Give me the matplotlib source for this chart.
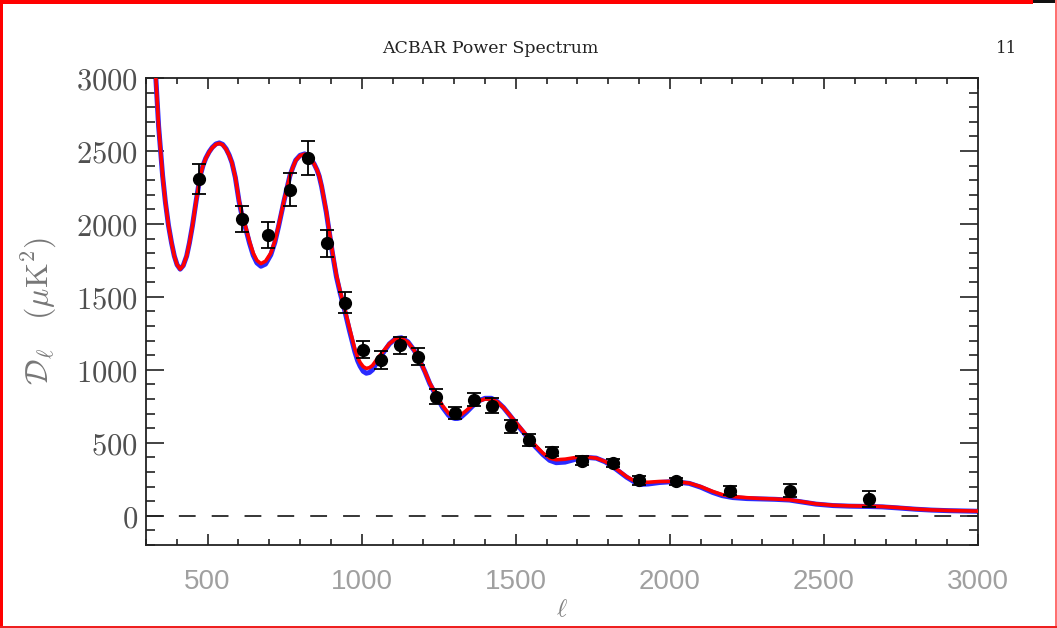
import matplotlib
matplotlib.use("Agg")
import matplotlib.pyplot as plt
from matplotlib.ticker import MultipleLocator, FuncFormatter
from matplotlib.patches import Rectangle

plt.rcParams['mathtext.fontset'] = 'cm'

# ACBAR band powers
ell = [472, 610, 696, 767, 826, 888, 945, 1004, 1064, 1123, 1183, 1242, 1304,
       1363, 1423, 1483, 1542, 1618, 1714, 1815, 1899, 2020, 2196, 2391, 2647]
dl = [2306, 2034, 1925, 2233, 2450, 1868, 1461, 1137, 1068, 1168, 1091, 817, 703,
      795, 755, 612, 521, 440, 377, 361, 242, 235, 173, 173, 114]
dl_err = [103, 88, 90, 113, 117, 92, 70, 58, 60, 56, 57, 50, 40,
          45, 50, 45, 40, 30, 30, 30, 30, 25, 30, 45, 55]

# model spectra
model_ell = [305, 332, 341, 354, 363, 373, 383, 392, 401, 411,
             421, 432, 441, 451, 463, 476, 485, 494, 505, 515,
             527, 538, 549, 560, 570, 579, 590, 602, 612, 624,
             636, 648, 660, 673, 688, 705, 718, 730, 748, 767,
             777, 786, 800, 815, 830, 846, 855, 862, 870, 877,
             885, 892, 905, 918, 930, 942, 960, 978, 987, 995,
             1005, 1015, 1025, 1035, 1052, 1069, 1090, 1110, 1129, 1150,
             1170, 1188, 1205, 1221, 1242, 1262, 1282, 1292, 1302, 1311,
             1320, 1340, 1361, 1380, 1400, 1421, 1440, 1460, 1480, 1500,
             1520, 1539, 1560, 1588, 1610, 1631, 1660, 1690, 1707, 1730,
             1761, 1790, 1815, 1840, 1860, 1880, 1899, 1930, 1966, 2010,
             2063, 2100, 2139, 2170, 2204, 2250, 2290, 2340, 2388, 2430,
             2474, 2530, 2582, 2640, 2690, 2740, 2798, 2850, 2906, 2950,
             3000]
model_red = [3450, 3000, 2670, 2330, 2150, 1990, 1870, 1780, 1720, 1690,
             1715, 1780, 1870, 1990, 2160, 2330, 2400, 2450, 2492, 2522,
             2545, 2552, 2542, 2512, 2470, 2420, 2320, 2160, 2060, 1975,
             1880, 1800, 1750, 1728, 1745, 1800, 1880, 1986, 2160, 2330,
             2390, 2435, 2468, 2478, 2460, 2410, 2370, 2330, 2260, 2180,
             2090, 1990, 1810, 1650, 1540, 1445, 1290, 1140, 1085, 1050,
             1022, 1010, 1015, 1030, 1080, 1125, 1180, 1212, 1217, 1190,
             1135, 1068, 990, 910, 829, 755, 702, 688, 680, 681,
             688, 722, 760, 786, 800, 799, 780, 742, 692, 640,
             590, 543, 490, 430, 395, 384, 388, 398, 402, 402,
             395, 372, 340, 300, 268, 245, 230, 230, 235, 236,
             224, 200, 167, 145, 132, 124, 119, 115, 110, 96,
             82, 72, 68, 66, 63, 56, 46, 40, 36, 34,
             32]
model_blue = [3450, 3000, 2670, 2330, 2150, 1990, 1870, 1780, 1720, 1690,
              1715, 1780, 1870, 1990, 2160, 2330, 2400, 2450, 2494, 2524,
              2548, 2555, 2545, 2515, 2472, 2420, 2318, 2155, 2052, 1965,
              1868, 1785, 1733, 1710, 1725, 1788, 1872, 1980, 2158, 2330,
              2390, 2437, 2470, 2480, 2462, 2410, 2370, 2328, 2256, 2175,
              2082, 1982, 1800, 1638, 1528, 1432, 1272, 1122, 1062, 1025,
              990, 977, 982, 1000, 1060, 1115, 1178, 1214, 1220, 1192,
              1135, 1066, 988, 905, 822, 745, 688, 674, 667, 667,
              672, 710, 755, 788, 805, 805, 782, 742, 690, 636,
              585, 536, 482, 420, 380, 364, 368, 385, 395, 400,
              395, 370, 336, 296, 264, 238, 214, 218, 228, 234,
              222, 196, 160, 138, 125, 118, 116, 113, 108, 94,
              80, 70, 66, 64, 61, 54, 45, 39, 35, 33,
              31]


def draw_spectrum(filename):
    fig = plt.figure(figsize=(10.57, 6.28), dpi=100)
    ax = fig.add_axes([0.1381, 0.1322, 0.7872, 0.7436])

    ax.axhline(0, color='black', lw=1.1, linestyle=(0, (11, 10.5)), zorder=1)
    ax.plot(model_ell, model_blue, color='#2a2aff', lw=3.6, zorder=2,
            solid_joinstyle='round')
    ax.plot(model_ell, model_red, color='#ff0000', lw=2.6, zorder=3,
            solid_joinstyle='round')
    ax.errorbar(ell, dl, yerr=dl_err, fmt='o', color='black', ms=8.5,
                elinewidth=1.3, capsize=5, capthick=1.3, zorder=4)

    ax.set_xlim(300, 3000)
    ax.set_ylim(-200, 3000)

    ax.xaxis.set_major_locator(MultipleLocator(500))
    ax.xaxis.set_minor_locator(MultipleLocator(100))
    ax.yaxis.set_major_locator(MultipleLocator(500))
    ax.yaxis.set_minor_locator(MultipleLocator(100))
    ax.yaxis.set_major_formatter(FuncFormatter(lambda v, p: '$%d$' % v))

    ax.tick_params(which='both', direction='in', top=True, right=True,
                   width=1.2, color='#222222')
    ax.tick_params(axis='x', which='major', length=8)
    ax.tick_params(axis='x', which='minor', length=4)
    ax.tick_params(axis='y', which='major', length=13)
    ax.tick_params(axis='y', which='minor', length=6.5)
    ax.tick_params(axis='x', pad=17, labelsize=20, labelcolor='#a0a0a0')
    ax.tick_params(axis='y', pad=6, labelsize=22, labelcolor='#505050')
    for lab in ax.get_xticklabels():
        lab.set_family('Liberation Sans')
    for s in ax.spines.values():
        s.set_linewidth(1.3)
        s.set_color('#222222')

    ax.set_xlabel(r'$\ell$', fontsize=18, color='#808080', labelpad=2)
    ax.set_ylabel(r'$\mathcal{D}_\ell\ \ \ (\mu{\rm K}^2)$', fontsize=23,
                  color='#777777', labelpad=12)

    fig.text(0.4636, 0.922, 'ACBAR Power Spectrum', ha='center', va='center',
             family='DejaVu Serif', fontsize=12.5, color='#222222')
    fig.text(0.952, 0.922, '11', ha='center', va='center',
             family='DejaVu Serif', fontsize=12, color='#222222')

    # page frame
    W, H = 1057.0, 628.0
    for (x0, y0, w, h, c) in [(0, 0, 3, H, '#ff0000'),
                              (0, H - 4, 1033, 4, '#ff0000'),
                              (1033, H - 3, 24, 3, '#111111'),
                              (1055, 0, 2, H, '#ff7070'),
                              (0, 0, W, 2, '#ee2020')]:
        fig.patches.append(Rectangle((x0 / W, y0 / H), w / W, h / H,
                                     transform=fig.transFigure, color=c,
                                     lw=0, zorder=10))

    fig.savefig(filename, dpi=100)


if __name__ == "__main__":
    draw_spectrum("out.png")
